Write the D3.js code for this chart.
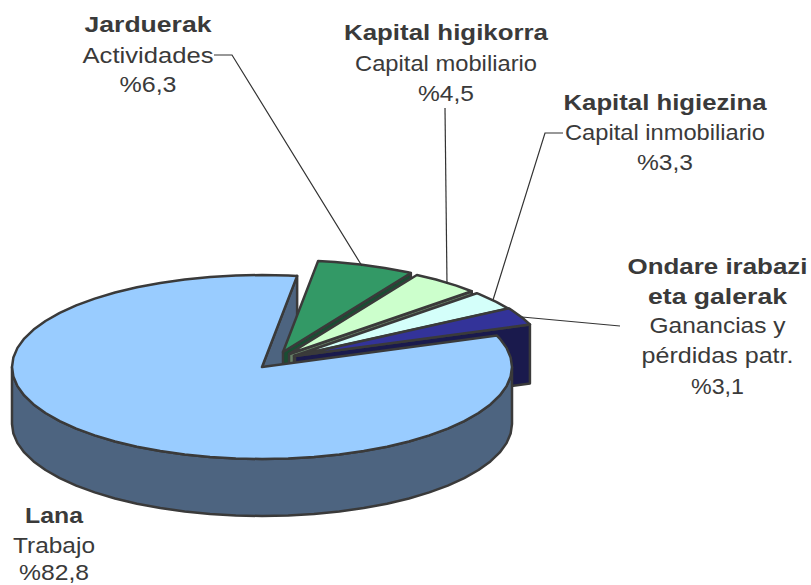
<!DOCTYPE html>
<html><head><meta charset="utf-8">
<script src="https://cdn.jsdelivr.net/npm/d3@7"></script>
<style>html,body{margin:0;padding:0;background:#fff}svg{display:block}</style>
</head><body><svg id="c" width="811" height="585"></svg>
<script>
const categories = ["Lana","Jarduerak","Kapital higikorra","Kapital higiezina","Ondare irabazi eta galerak"];
const translations = ["Trabajo","Actividades","Capital mobiliario","Capital inmobiliario","Ganancias y pérdidas patr."];
const values = [82.8,6.3,4.5,3.3,3.1];
const valueLabels = ["%82,8","%6,3","%4,5","%3,3","%3,1"];
const topColors = ["#99CCFF","#339966","#CCFFCC","#D4FFFA","#333399"];
const wallColors = ["#4D6480","#1A4D33","#667F66","#6A807D","#1A1A4D"];

const W=811,H=585,cx=262,cy=367,rx=250,ry=92,depth=57;
const offsets=[[0,0],[21,-15],[27,-13],[32,-11],[33,-11]];
const svg=d3.select("#c");
const x=d3.scaleLinear().domain([-1,1]).range([cx-rx,cx+rx]);
const y=d3.scaleLinear().domain([-1,1]).range([cy-ry,cy+ry]);
const start=70*Math.PI/180;
const arcs=d3.pie().sort(null).value(d=>d).startAngle(start).endAngle(start+2*Math.PI)(values);
const STEP=6*Math.PI/180, line=d3.line();
const rim=(a,o,dz=0)=>[x(Math.sin(a))+o[0],y(-Math.cos(a))+o[1]+dz];
function angles(a0,a1){const r=[a0];for(let t=Math.ceil(a0/STEP)*STEP;t<a1;t+=STEP)if(t>a0)r.push(t);r.push(a1);return r;}
const stroke="#3a3a3a",sw=2.5;
function poly(pts,fill,w=sw){svg.append("path").attr("d",line(pts)+"Z").attr("fill",fill).attr("stroke",stroke).attr("stroke-width",w).attr("stroke-linejoin","round");}

{const a=arcs[0],o=offsets[0],c=[x(0),y(0)];
 const e=a.endAngle,r=rim(e,o);
 poly([c,r,[r[0],r[1]+depth],[c[0],c[1]+depth]],wallColors[0]);}
[1,2,3,4].forEach(i=>{
 const a=arcs[i],o=offsets[i],c=[x(0)+o[0],y(0)+o[1]],e=rim(a.endAngle,o);
 poly([c,e,[e[0],e[1]+depth+2],[c[0],c[1]+depth+2]],wallColors[i]);
 poly([c,...angles(a.startAngle,a.endAngle).map(t=>rim(t,o))],topColors[i]);
});
{const a=arcs[0],o=offsets[0],c=[x(0),y(0)];
 const front=angles(Math.PI/2,1.5*Math.PI);
 poly([...front.map(t=>rim(t,o)),...front.slice().reverse().map(t=>rim(t,o,depth))],wallColors[0]);
 poly([c,...angles(a.startAngle,a.endAngle).map(t=>rim(t,o))],topColors[0]);}

const leaders=[
 [[214,55],[232,55],[362,266]],
 [[445,108],[447,284]],
 [[563,133],[545,133],[493,300]],
 [[620,326],[522,317]]];
leaders.forEach(l=>svg.append("path").attr("d",line(l)).attr("fill","none").attr("stroke","#333").attr("stroke-width",1.2));

const labels=[
 {x:54,y:[523,553,580],w:[58,82,70],bold:[categories[0]],plain:[translations[0]],v:0},
 {x:148,y:[32,63,92],w:[127,131,57],bold:[categories[1]],plain:[translations[1]],v:1},
 {x:446,y:[40,71,101],w:[204,182,56],bold:[categories[2]],plain:[translations[2]],v:2},
 {x:665,y:[110,140,170],w:[203,200,56],bold:[categories[3]],plain:[translations[3]],v:3},
 {x:717.5,y:[274,304,333,363,394],w:[180,139,136,152,53],bold:["Ondare irabazi","eta galerak"],plain:["Ganancias y","pérdidas patr."],v:4}];
labels.forEach(L=>{
 const rows=[...L.bold.map(t=>[t,700]),...L.plain.map(t=>[t,400]),[valueLabels[L.v],400]];
 rows.forEach((r,i)=>svg.append("text").attr("x",L.x).attr("y",L.y[i]).attr("text-anchor","middle")
  .attr("font-family","'Liberation Sans',Arial,sans-serif").attr("font-size",21.5).attr("font-weight",r[1])
  .attr("textLength",L.w[i]).attr("lengthAdjust","spacingAndGlyphs")
  .attr("fill","#3a3a3a").text(r[0]));
});
</script></body></html>
